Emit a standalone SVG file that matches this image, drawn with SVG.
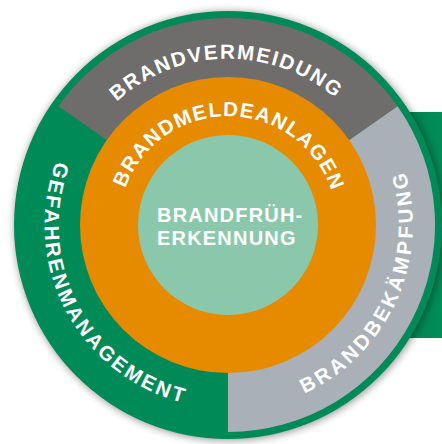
<svg xmlns="http://www.w3.org/2000/svg" width="442" height="444" viewBox="0 0 442 444">
  <style>
    .lbl { font-family: "Liberation Sans", Arial, sans-serif; font-weight: bold; fill: #ffffff; }
    .ring { font-size: 20.5px; }
    .side { font-size: 20.5px; }
    .core { font-size: 20px; }
  </style>
  <defs>
    <filter id="shadow" x="-20%" y="-20%" width="140%" height="140%">
      <feGaussianBlur stdDeviation="4"/>
    </filter>
    <linearGradient id="rectShade" x1="0" y1="0" x2="1" y2="0">
      <stop offset="0" stop-color="#006f45"/>
      <stop offset="0.5" stop-color="#008552"/>
      <stop offset="1" stop-color="#008d58"/>
    </linearGradient>
    <path id="pVermeidung" d="M 62 224.13 A 166 166 0 0 1 393.93 220.07"/>
    <path id="pMelde" d="M 119.07 221.2 A 109 109 0 0 1 337 225"/>
    <path id="pGefahren" d="M 128.3 71.5 A 183 183 0 0 0 299.5 393.5"/>
    <path id="pBekaempfung" d="M 167.8 399.9 A 185 185 0 0 0 317.7 63.2"/>
  </defs>

  <g id="background-panel">
    <rect x="380" y="112" width="62" height="226" fill="url(#rectShade)"/>
  </g>

  <g id="shadow-layer">
    <circle cx="229" cy="226" r="214" fill="#000000" opacity="0.45" filter="url(#shadow)"/>
  </g>

  <g id="gefahrenmanagement">
    <circle cx="228" cy="225" r="214" fill="#008a57"/>
    <text class="lbl side" letter-spacing="2.6"><textPath href="#pGefahren" startOffset="50%" text-anchor="middle">GEFAHRENMANAGEMENT</textPath></text>
  </g>

  <g id="brandvermeidung">
    <path d="M 228 225 L 58.4 106.3 A 207 207 0 0 1 397.6 106.3 Z" fill="#6e6d6b"/>
    <text class="lbl ring" letter-spacing="1.8"><textPath href="#pVermeidung" startOffset="50%" text-anchor="middle">BRANDVERMEIDUNG</textPath></text>
  </g>

  <g id="brandbekaempfung">
    <path d="M 228 225 L 397.6 106.3 A 207 207 0 0 1 228 432 Z" fill="#a9b0b7"/>
    <text class="lbl side" letter-spacing="3.2"><textPath href="#pBekaempfung" startOffset="50%" text-anchor="middle">BRANDBEKÄMPFUNG</textPath></text>
  </g>

  <g id="brandmeldeanlagen">
    <circle cx="228" cy="225" r="148" fill="#e68a00"/>
    <text class="lbl ring" letter-spacing="1.4"><textPath href="#pMelde" startOffset="50%" text-anchor="middle">BRANDMELDEANLAGEN</textPath></text>
  </g>

  <g id="brandfrueherkennung">
    <circle cx="228" cy="225" r="90" fill="#8bc8ab"/>
    <text class="lbl core" x="157" y="222" letter-spacing="1.2">BRANDFRÜH-</text>
    <text class="lbl core" x="157" y="245" letter-spacing="1.2">ERKENNUNG</text>
  </g>

  <g id="connectors"></g>
</svg>
